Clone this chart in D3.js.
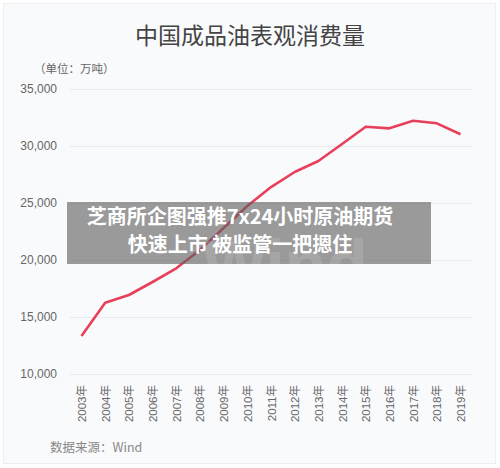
<!DOCTYPE html>
<html>
<head>
<meta charset="utf-8">
<script src="https://cdn.jsdelivr.net/npm/d3@7"></script>
<style>
  html, body { margin: 0; padding: 0; background: #fff; }
  #chart { width: 500px; height: 468px; }
  text { font-family: "Liberation Sans", Arial, "Noto Sans CJK SC", sans-serif; }
</style>
</head>
<body>
<div id="chart"></div>
<script>
// data (万吨)
const years = ['2003年', '2004年', '2005年', '2006年', '2007年', '2008年', '2009年', '2010年', '2011年',
  '2012年', '2013年', '2014年', '2015年', '2016年', '2017年', '2018年', '2019年']
const consumption = [13330, 16250, 16930, 18070, 19270, 20880, 22810, 24740, 26400,
  27720, 28680, 30170, 31690, 31550, 32220, 31990, 31030]
const yTicks = [10000, 15000, 20000, 25000, 30000, 35000]

const width = 500
const height = 468
const cjk = '"Noto Sans CJK SC", sans-serif'

const svg = d3.select('#chart').append('svg')
  .attr('width', width).attr('height', height)

// card background
svg.append('rect').attr('x', 3.5).attr('y', 3.5).attr('width', 492).attr('height', 460)
  .attr('fill', '#f9fafc').attr('stroke', '#eceef1').attr('stroke-width', 1)

svg.append('text').attr('x', 250).attr('y', 44).attr('text-anchor', 'middle')
  .attr('fill', '#444').style('font-family', cjk).style('font-size', '23px')
  .text('中国成品油表观消费量')

svg.append('text').attr('x', 34).attr('y', 73)
  .attr('fill', '#666').style('font-family', cjk).style('font-size', '11.5px')
  .text('（单位：万吨）')

const x = d3.scalePoint().domain(years).range([81.5, 460.5])
const y = d3.scaleLinear().domain([10000, 35000]).range([374, 89])

// gridlines + y labels
const yAxis = svg.append('g').attr('transform', 'translate(70,0)')
  .call(d3.axisLeft(y).tickValues(yTicks).tickSize(-402).tickPadding(13)
    .tickFormat(d3.format(',')))
yAxis.select('.domain').remove()
yAxis.selectAll('line').attr('stroke', '#e8eaee')
yAxis.selectAll('text').attr('fill', '#666').style('font-size', '12px')

// x labels, rotated
const xAxis = svg.append('g').attr('transform', 'translate(0,381)')
  .call(d3.axisBottom(x).tickSize(0).tickPadding(0))
xAxis.select('.domain').remove()
xAxis.selectAll('text')
  .attr('transform', 'rotate(-90)')
  .attr('x', -4).attr('y', 0).attr('dy', '0.35em')
  .attr('text-anchor', 'end')
  .attr('fill', '#666').style('font-size', '11.5px')

const line = d3.line().x((d, i) => x(years[i])).y(d => y(d))
svg.append('path').datum(consumption)
  .attr('d', line).attr('fill', 'none')
  .attr('stroke', '#e8405a').attr('stroke-width', 2.6)
  .attr('stroke-linejoin', 'round')

svg.append('text').attr('x', 50).attr('y', 452)
  .attr('fill', '#888').style('font-family', cjk).style('font-size', '12.5px')
  .text('数据来源：Wind')

// news caption overlay
svg.append('rect').attr('x', 67).attr('y', 202).attr('width', 364).attr('height', 62)
  .attr('fill', 'rgba(95,95,95,0.62)')

// white watermark, only shows on the grey box
svg.append('text').attr('x', 285).attr('y', 288).attr('text-anchor', 'middle')
  .attr('fill', '#fff').attr('opacity', 0.12)
  .style('font-size', '68px').style('font-weight', 'bold').text('Wind')

const cap = svg.append('text').attr('text-anchor', 'middle').attr('fill', '#fff')
  .style('font-family', cjk).style('font-size', '20px').style('font-weight', 'bold')
cap.append('tspan').attr('x', 240).attr('y', 224).text('芝商所企图强推7x24小时原油期货')
cap.append('tspan').attr('x', 240).attr('y', 252).text('快速上市 被监管一把摁住')
</script>
</body>
</html>
